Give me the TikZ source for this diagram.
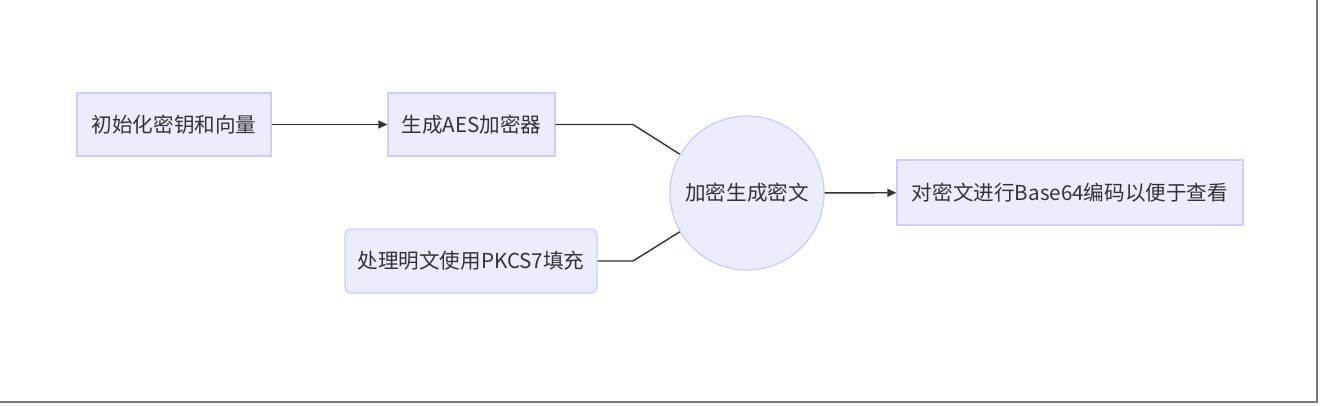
\documentclass[tikz,border=0pt]{standalone}
\usepackage{fontspec}
\setmainfont{Noto Sans CJK SC}
\usetikzlibrary{arrows.meta,positioning}
\definecolor{nodeFill}{HTML}{ECECFF}
\definecolor{nodeLine}{HTML}{CCCCFF}
\definecolor{textGray}{HTML}{333333}
\definecolor{frameGray}{HTML}{777777}

\begin{document}
\begin{tikzpicture}[x=1pt,y=-1pt,>={Triangle[length=9pt,width=8pt]}]

    \tikzstyle{commonNode}=[draw=nodeLine, fill=nodeFill, line width=1.3pt, text=textGray, font=\fontsize{20.6}{24}\selectfont, align=center, inner sep=0pt]
    \tikzstyle{stepbox}=[commonNode, rectangle, minimum height=63pt]
    \tikzstyle{roundbox}=[stepbox, rounded corners=6pt]
    \tikzstyle{cryptnode}=[commonNode, circle, minimum size=154pt]
    \tikzstyle{link}=[draw=textGray, line width=1.4pt]

    \useasboundingbox (0,0) rectangle (1322,406);

    % Steps
    \node at (174,124.5) [stepbox, minimum width=194pt] (init) {初始化密钥和向量};
    \node at (471.5,124.5) [stepbox, minimum width=167pt] (aes) {生成AES加密器};
    \node at (471,261) [roundbox, minimum width=252pt, minimum height=64pt] (pad) {处理明文使用PKCS7填充};
    \node at (747,193) [cryptnode] (enc) {加密生成密文};
    \node at (1070,192.5) [stepbox, minimum width=346pt, minimum height=65pt] (b64) {对密文进行Base64编码以便于查看};

    % Connectors
    \coordinate (aesBend) at (633,124.5);
    \coordinate (padBend) at (633,261);
    \draw [link,->] (init) -- (aes);
    \draw [link] (aes.east) -- (aesBend) -- (enc.150);
    \draw [link] (pad.east) -- (padBend) -- (enc.210);
    \draw [link,->] (enc) -- (b64);

    % Frame
    \draw [frameGray, line width=2pt] (1317,0) -- (1317,401.5) -- (0,401.5);
\end{tikzpicture}
\end{document}
